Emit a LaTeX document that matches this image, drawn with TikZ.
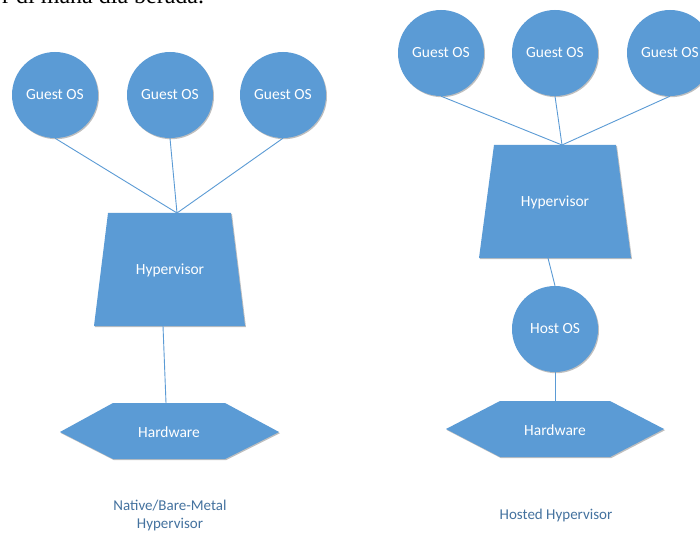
\documentclass[tikz,border=0pt]{standalone}
\usepackage{fontspec}
\setmainfont{Carlito}
\newfontfamily\serifx{Liberation Serif}
\usetikzlibrary{shadows}
\definecolor{obl}{HTML}{5B9BD5}
\definecolor{capc}{HTML}{44729F}
\begin{document}
\begin{tikzpicture}[x=1pt,y=-1pt,
  fnt/.style={font=\fontsize{15.5}{18}\selectfont},
  sh/.style={drop shadow={shadow xshift=1pt,shadow yshift=-1.2pt,opacity=0.25,fill=black}},
  os/.style={circle,fill=obl,minimum size=86pt,inner sep=0pt,text=white,fnt,sh},
  shapebox/.style={fill=obl,sh},
  lbl/.style={text=white,fnt,inner sep=0pt},
  link/.style={draw=obl,line width=0.9pt},
  captxt/.style={text=capc,font=\fontsize{15}{18}\selectfont,align=center,inner sep=0pt}]
\useasboundingbox (0,0) rectangle (700,534);
\fill[white] (0,0) rectangle (700,534);
\begin{scope}
\clip (0,0) rectangle (700,534);
% cut-off text at top
\begin{scope}
\clip (0,0) rectangle (260,6);
\node[anchor=base west,inner sep=0pt,font=\serifx\fontsize{24}{28}\selectfont] (toptext) at (2,3.5) {r di mana dia berada.};
\end{scope}

% ---------- Left: Native ----------
\coordinate (Lapex) at (177,213);
\coordinate (Lbot) at (163,326);
\coordinate (Lhwtop) at (166,403);
\node[os] (Lg1) at (55,95) {Guest OS};
\node[os] (Lg2) at (170,95) {Guest OS};
\node[os] (Lg3) at (283,95) {Guest OS};
\path[shapebox] (108,213) -- (231,213) -- (245,326) -- (94,326) -- cycle;
\node[lbl] (Lhv) at (170,270) {Hypervisor};
\path[shapebox] (113,403) -- (225,403) -- (279,432) -- (225,459) -- (113,459) -- (60,432) -- cycle;
\node[lbl] (Lhw) at (169,432) {Hardware};
\draw[link] (Lg1.south) -- (Lapex);
\draw[link] (Lg2.south) -- (Lapex);
\draw[link] (Lg3.south) -- (Lapex);
\draw[link] (Lbot) -- (Lhwtop);
\node[captxt] (Lcap) at (170,515) {Native/Bare-Metal\\Hypervisor};

% ---------- Right: Hosted ----------
\coordinate (Rapex) at (562,145);
\coordinate (Rbot) at (548,258);
\coordinate (Rhwtop) at (555,401);
\node[os] (Rg1) at (441,53) {Guest OS};
\node[os] (Rg2) at (555,53) {Guest OS};
\node[os] (Rg3) at (670,53) {Guest OS};
\path[shapebox] (494,145) -- (616,145) -- (631,258) -- (479,258) -- cycle;
\node[lbl] (Rhv) at (555,202) {Hypervisor};
\node[os] (Rhost) at (555,329) {Host OS};
\path[shapebox] (500,401) -- (610,401) -- (664,429) -- (610,457) -- (500,457) -- (446,429) -- cycle;
\node[lbl] (Rhw) at (555,430) {Hardware};
\draw[link] (Rg1.south) -- (Rapex);
\draw[link] (Rg2.south) -- (Rapex);
\draw[link] (Rg3.south) -- (Rapex);
\draw[link] (Rbot) -- (Rhost.north);
\draw[link] (Rhost.south) -- (Rhwtop);
\node[captxt] (Rcap) at (556,515) {Hosted Hypervisor};
\end{scope}
\end{tikzpicture}
\end{document}
